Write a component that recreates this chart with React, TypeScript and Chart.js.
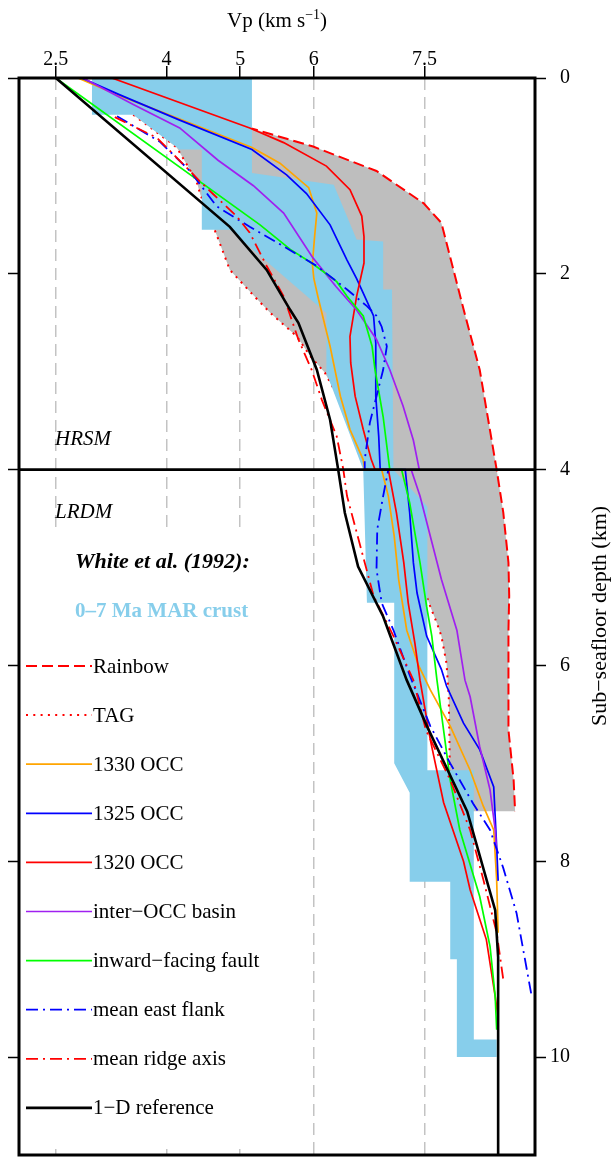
import React, { useEffect, useRef } from "react";
import { Chart, registerables } from "chart.js";
Chart.register(...registerables);

// ---------- axis ticks ----------
const X_TICKS = [2.5, 4, 5, 6, 7.5];
const DEPTH_TICKS = [0, 2, 4, 6, 8, 10];
const BOUNDARY_DEPTH = 4; // HRSM / LRDM boundary

// ---------- White et al. (1992) 0-7 Ma MAR crust envelope (polygon) ----------
const WHITE_VP = [2.99, 5.16, 5.16, 6.27, 6.58, 6.94, 6.94, 7.06, 7.08, 7.54, 7.54, 8.17, 8.17, 8.48, 8.48, 7.94, 7.94, 7.85, 7.85, 7.3, 7.3, 7.09, 7.09, 6.72, 6.67, 6.17, 6.17, 4.86, 4.48, 4.48, 4.18, 3.55, 2.99];
const WHITE_Z = [0, 0, 0.97, 1.09, 1.65, 1.67, 2.16, 2.16, 4.0, 4.38, 7.07, 7.07, 9.82, 9.82, 10.0, 10.0, 9.0, 9.0, 8.21, 8.21, 7.3, 7.0, 5.36, 5.36, 4.0, 3.01, 2.4, 1.55, 1.55, 0.73, 0.73, 0.376, 0.376];

// ---------- velocity profiles (Vp km/s vs depth km) ----------
const RAINBOW_VP = [3.26, 5.13, 5.99, 6.85, 7.49, 7.73, 8.03, 8.25, 8.48, 8.57, 8.64, 8.65, 8.64, 8.64, 8.71, 8.73];
const RAINBOW_Z = [0, 0.51, 0.7, 0.95, 1.28, 1.48, 2.36, 2.98, 4.0, 4.44, 4.95, 5.29, 5.64, 6.66, 7.17, 7.49];

const TAG_VP = [3.55, 3.87, 4.14, 4.32, 4.41, 4.46, 4.68, 4.86, 5.18, 5.41, 5.77, 5.95, 6.15, 6.5, 6.9, 7.3, 7.58, 7.67, 7.73, 7.8, 7.83, 7.84, 7.85];
const TAG_Z = [0.376, 0.555, 0.71, 0.94, 1.06, 1.19, 1.6, 1.96, 2.22, 2.4, 2.64, 2.84, 3.01, 3.5, 4.1, 4.8, 5.4, 5.57, 5.7, 5.98, 6.32, 6.79, 7.49];

const OCC1330_VP = [2.8, 3.33, 4.18, 5.16, 5.54, 5.93, 6.04, 6.01, 5.98, 6.0, 6.06, 6.22, 6.36, 6.49, 6.67, 6.69, 6.92, 7.01, 7.09, 7.15, 7.26, 7.42, 7.58, 7.85, 8.12, 8.3, 8.44, 8.48, 8.5];
const OCC1330_Z = [0, 0.17, 0.42, 0.71, 0.87, 1.12, 1.38, 1.62, 1.9, 2.05, 2.25, 2.74, 3.25, 3.59, 3.9, 4.0, 4.0, 4.27, 4.68, 5.12, 5.64, 6.0, 6.25, 6.62, 7.07, 7.44, 7.68, 8.19, 8.73];

const OCC1325_VP = [2.85, 3.36, 4.18, 5.16, 5.63, 5.9, 6.22, 6.45, 6.58, 6.69, 6.81, 6.84, 6.84, 6.88, 6.9, 7.24, 7.3, 7.35, 7.4, 7.53, 7.73, 7.8, 8.03, 8.25, 8.44, 8.48, 8.5];
const OCC1325_Z = [0, 0.17, 0.43, 0.73, 0.99, 1.18, 1.5, 1.86, 2.05, 2.23, 2.43, 2.71, 3.25, 3.66, 4.0, 4.0, 4.44, 4.95, 5.26, 5.7, 6.04, 6.21, 6.59, 6.86, 7.24, 7.85, 8.2];

const OCC1320_VP = [3.26, 5.13, 5.59, 6.17, 6.49, 6.65, 6.68, 6.68, 6.58, 6.49, 6.5, 6.56, 6.67, 6.78, 6.83, 7.01, 7.12, 7.22, 7.28, 7.37, 7.44, 7.58, 7.76, 8.03, 8.12, 8.34, 8.46, 8.5];
const OCC1320_Z = [0, 0.51, 0.66, 0.9, 1.14, 1.41, 1.62, 1.89, 2.23, 2.64, 2.91, 3.25, 3.59, 3.9, 4.0, 4.0, 4.44, 4.95, 5.36, 5.77, 6.15, 6.76, 7.4, 8.0, 8.29, 8.8, 9.38, 9.6];

const BASIN_VP = [2.87, 3.55, 4.18, 4.7, 5.18, 5.59, 5.99, 6.3, 6.58, 6.85, 7.03, 7.21, 7.35, 7.43, 7.32, 7.44, 7.58, 7.73, 7.94, 8.05, 8.12, 8.25, 8.39, 8.46, 8.48];
const BASIN_Z = [0, 0.27, 0.51, 0.84, 1.1, 1.38, 1.84, 2.13, 2.37, 2.67, 2.98, 3.35, 3.7, 4.0, 4.0, 4.27, 4.68, 5.12, 5.64, 6.15, 6.32, 6.83, 7.27, 7.68, 7.9];

const FAULT_VP = [2.5, 5.27, 5.68, 5.97, 6.31, 6.45, 6.67, 6.79, 6.83, 6.94, 7.03, 7.19, 7.3, 7.44, 7.53, 7.6, 7.67, 7.76, 7.85, 7.98, 8.25, 8.39, 8.46, 8.48];
const FAULT_Z = [0, 1.5, 1.75, 1.89, 2.08, 2.23, 2.43, 2.74, 2.98, 3.46, 4.0, 4.0, 4.34, 4.95, 5.4, 5.7, 6.15, 6.66, 7.17, 7.68, 8.36, 8.87, 9.38, 9.72];

const EAST_VP = [3.33, 3.91, 4.32, 4.68, 5.13, 5.59, 6.04, 6.45, 6.72, 6.85, 6.92, 6.99, 6.94, 6.85, 6.76, 6.69, 6.69, 7.01, 6.94, 6.86, 6.85, 6.92, 7.08, 7.3, 7.58, 7.85, 8.16, 8.39, 8.57, 8.75, 8.89, 8.96];
const EAST_Z = [0.39, 0.65, 0.95, 1.31, 1.52, 1.72, 1.92, 2.16, 2.33, 2.43, 2.54, 2.74, 2.98, 3.25, 3.52, 3.9, 4.0, 4.0, 4.27, 4.61, 5.02, 5.36, 5.64, 6.1, 6.62, 7.0, 7.41, 7.68, 8.07, 8.53, 9.11, 9.4];

const AXIS_VP = [3.3, 3.87, 4.32, 4.46, 4.64, 4.95, 5.13, 5.36, 5.59, 5.79, 5.97, 6.11, 6.31, 6.4, 6.45, 6.63, 6.81, 7.08, 7.35, 7.52, 7.85, 8.12, 8.3, 8.48, 8.57];
const AXIS_Z = [0.4, 0.61, 0.95, 1.06, 1.19, 1.41, 1.58, 1.92, 2.23, 2.67, 2.98, 3.29, 3.66, 4.0, 4.27, 4.78, 5.29, 5.7, 6.15, 6.66, 7.17, 7.68, 8.19, 8.73, 9.21];

const REF1D_VP = [2.5, 4.86, 5.36, 5.68, 5.79, 6.04, 6.22, 6.33, 6.42, 6.6, 6.94, 7.26, 7.54, 8.08, 8.46, 8.5, 8.5];
const REF1D_Z = [0, 1.52, 1.96, 2.37, 2.5, 2.98, 3.49, 4.0, 4.44, 4.99, 5.5, 6.15, 6.63, 7.49, 8.5, 8.98, 11];

const LEGEND_ORDER = [
  "Rainbow", "TAG", "1330 OCC", "1325 OCC", "1320 OCC",
  "inter\u2212OCC basin", "inward\u2212facing fault", "mean east flank", "mean ridge axis", "1\u2212D reference",
];

const SERIF = "'Liberation Serif', 'Times New Roman', serif";
const SKY = "#87ceeb";
const GRAY = "#bebebe";

const zip = (vp: number[], z: number[]) => vp.map((v, i) => ({ x: v, y: z[i] }));

function lineDs(label: string, vp: number[], z: number[], color: string, width: number, dash: number[] = []) {
  return {
    label, data: zip(vp, z), borderColor: color, backgroundColor: color,
    borderWidth: width, borderDash: dash, showLine: true, fill: false,
    pointRadius: 0, pointHoverRadius: 0, tension: 0,
  };
}

function polyDs(label: string, pts: { x: number; y: number }[], color: string) {
  return {
    label, data: pts, borderColor: "rgba(0,0,0,0)", backgroundColor: color,
    borderWidth: 0, showLine: true, fill: "shape", pointRadius: 0, pointHoverRadius: 0, tension: 0,
  };
}

const noPad = (s: any) => { s.paddingTop = 0; s.paddingBottom = 0; s.paddingLeft = 0; s.paddingRight = 0; };

const decorPlugin = {
  id: "decor",
  beforeDatasetsDraw(chart: any) {
    const { ctx } = chart;
    ctx.save();
    ctx.fillStyle = "#ffffff";
    ctx.fillRect(21, 530, 259, 619);
    ctx.restore();
  },
  afterDatasetsDraw(chart: any) {
    const { ctx, chartArea: ca, scales } = chart;
    const y = scales.y;
    ctx.save();
    // boundary line at 4 km
    const yb = y.getPixelForValue(BOUNDARY_DEPTH);
    ctx.strokeStyle = "#000";
    ctx.setLineDash([]);
    ctx.lineWidth = 2.6;
    ctx.beginPath();
    ctx.moveTo(ca.left, yb);
    ctx.lineTo(ca.right, yb);
    ctx.stroke();
    // frame
    ctx.lineWidth = 3;
    ctx.strokeRect(ca.left, ca.top, ca.right - ca.left, ca.bottom - ca.top);

    // labels inside
    ctx.fillStyle = "#000";
    ctx.textBaseline = "middle";
    ctx.textAlign = "left";
    ctx.font = `italic 21px ${SERIF}`;
    ctx.fillText("HRSM", 55, 439);
    ctx.fillText("LRDM", 55, 512);
    ctx.font = `italic bold 22px ${SERIF}`;
    ctx.fillText("White et al. (1992):", 75, 562);
    ctx.fillStyle = SKY;
    ctx.font = `bold 21px ${SERIF}`;
    ctx.fillText("0\u20137 Ma MAR crust", 75, 612);

    // legend
    const ds = chart.data.datasets;
    LEGEND_ORDER.forEach((lab, i) => {
      const d = ds.find((e: any) => e.label === lab);
      if (!d) return;
      const yy = 666 + i * 49.1;
      ctx.strokeStyle = d.borderColor;
      ctx.lineWidth = d.borderWidth;
      ctx.setLineDash(d.borderDash || []);
      ctx.beginPath();
      ctx.moveTo(26, yy);
      ctx.lineTo(92, yy);
      ctx.stroke();
      ctx.setLineDash([]);
      ctx.fillStyle = "#000";
      ctx.font = `21px ${SERIF}`;
      ctx.fillText(lab, 93, yy + 1);
    });

    // x axis title with superscript
    ctx.fillStyle = "#000";
    const main = "Vp (km s";
    const sup = "\u22121";
    ctx.font = `21px ${SERIF}`;
    const wMain = ctx.measureText(main).width;
    const wClose = ctx.measureText(")").width;
    ctx.font = `14px ${SERIF}`;
    const wSup = ctx.measureText(sup).width;
    const cx = (ca.left + ca.right) / 2;
    let tx = cx - (wMain + wSup + wClose) / 2;
    ctx.textBaseline = "alphabetic";
    ctx.font = `21px ${SERIF}`;
    ctx.fillText(main, tx, 27);
    tx += wMain;
    ctx.font = `14px ${SERIF}`;
    ctx.fillText(sup, tx, 19);
    tx += wSup;
    ctx.font = `21px ${SERIF}`;
    ctx.fillText(")", tx, 27);

    // right axis title
    ctx.save();
    ctx.translate(600, 616);
    ctx.rotate(-Math.PI / 2);
    ctx.textAlign = "center";
    ctx.textBaseline = "middle";
    ctx.font = `22px ${SERIF}`;
    ctx.fillText("Sub\u2212seafloor depth (km)", 0, 0);
    ctx.restore();

    ctx.restore();
  },
};

export default function App() {
  const ref = useRef<HTMLCanvasElement>(null);
  useEffect(() => {
    const tagPts = zip(TAG_VP, TAG_Z);
    const rainbowPts = zip(RAINBOW_VP, RAINBOW_Z);
    const grayEnvelope = [...tagPts, ...rainbowPts.slice().reverse()];
    const whitePoly = zip(WHITE_VP, WHITE_Z);

    const datasets: any[] = [
      lineDs("1\u2212D reference", REF1D_VP, REF1D_Z, "#000000", 2.6),
      lineDs("mean ridge axis", AXIS_VP, AXIS_Z, "#ff0000", 1.8, [12, 5, 2, 5]),
      lineDs("mean east flank", EAST_VP, EAST_Z, "#0000ff", 1.8, [12, 5, 2, 5]),
      lineDs("inward\u2212facing fault", FAULT_VP, FAULT_Z, "#00ff00", 1.7),
      lineDs("inter\u2212OCC basin", BASIN_VP, BASIN_Z, "#a020f0", 1.7),
      lineDs("1320 OCC", OCC1320_VP, OCC1320_Z, "#ff0000", 1.7),
      lineDs("1325 OCC", OCC1325_VP, OCC1325_Z, "#0000ff", 1.7),
      lineDs("1330 OCC", OCC1330_VP, OCC1330_Z, "#ffa500", 1.7),
      polyDs("White et al. (1992)", whitePoly, SKY),
      lineDs("TAG", TAG_VP, TAG_Z, "#ff0000", 2, [2, 5.3]),
      lineDs("Rainbow", RAINBOW_VP, RAINBOW_Z, "#ff0000", 2, [11, 5]),
      polyDs("TAG\u2013Rainbow range", grayEnvelope, GRAY),
    ];

    const tickFont = { family: SERIF, size: 20 };
    const chart = new Chart(ref.current as HTMLCanvasElement, {
      type: "scatter",
      data: { datasets },
      options: {
        responsive: false,
        animation: false,
        devicePixelRatio: 1,
        layout: { padding: { left: 0, right: 45, top: 0, bottom: 2 } },
        plugins: {
          legend: { display: false },
          tooltip: { enabled: false },
          filler: { propagate: false },
        },
        events: [],
        scales: {
          x: {
            type: "linear", position: "top", min: 2, max: 9,
            afterBuildTicks: (s: any) => { s.ticks = X_TICKS.map((v) => ({ value: v })); },
            afterFit: (s: any) => { s.height = 78; noPad(s); },
            ticks: { font: tickFont, color: "#000", padding: -6, maxRotation: 0, autoSkip: false, callback: (v: any) => String(v) },
            grid: { display: true, drawOnChartArea: true, drawTicks: true, color: "#c3c3c3", lineWidth: 1.5, tickColor: "#000", tickWidth: 1.5, tickLength: 12 },
            border: { display: false, dash: [12, 7] },
          },
          y: {
            type: "linear", position: "right", reverse: true, min: 0, max: 11,
            afterBuildTicks: (s: any) => { s.ticks = DEPTH_TICKS.map((v) => ({ value: v })); },
            afterFit: (s: any) => { s.width = 35; noPad(s); },
            ticks: { font: tickFont, color: "#000", padding: 4, crossAlign: "far", callback: (v: any) => String(v) },
            grid: { drawOnChartArea: false, drawTicks: true, tickColor: "#000", tickWidth: 1.5, tickLength: 11 },
            border: { display: false },
          },
          yl: {
            type: "linear", position: "left", reverse: true, min: 0, max: 11,
            afterBuildTicks: (s: any) => { s.ticks = DEPTH_TICKS.map((v) => ({ value: v })); },
            afterFit: (s: any) => { s.width = 19; noPad(s); },
            ticks: { display: false },
            grid: { drawOnChartArea: false, drawTicks: true, tickColor: "#000", tickWidth: 1.5, tickLength: 11 },
            border: { display: false },
          },
        },
      } as any,
      plugins: [decorPlugin],
    });
    return () => chart.destroy();
  }, []);
  return (
    <div style={{ position: "absolute", left: 0, top: 0, width: 615, height: 1157, background: "#fff" }}>
      <canvas ref={ref} width={615} height={1157} style={{ display: "block", width: 615, height: 1157 }} />
    </div>
  );
}
